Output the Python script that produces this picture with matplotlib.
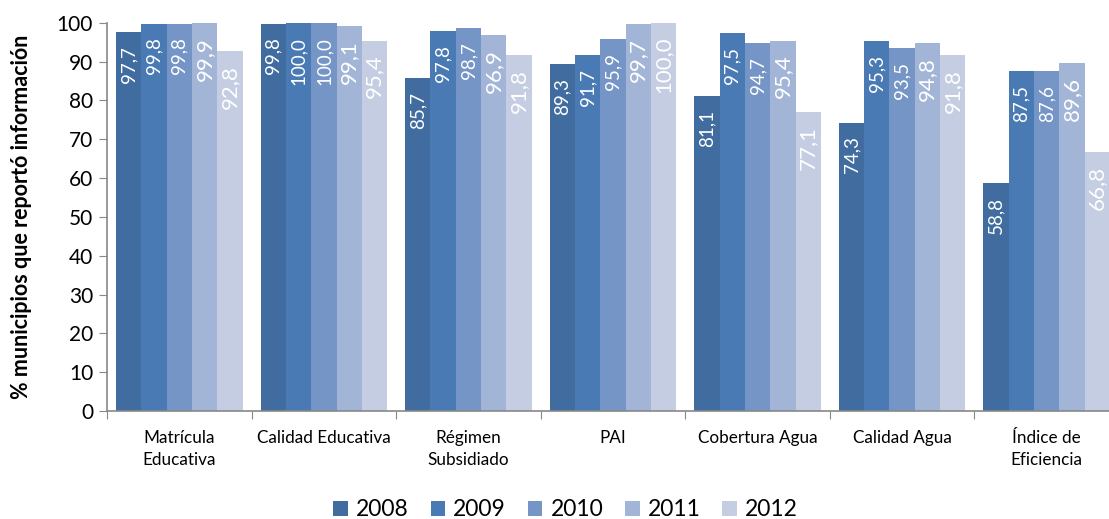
import numpy as np
import matplotlib.pyplot as plt
from matplotlib.patches import Patch

plt.rcParams['font.family'] = ['Lato', 'DejaVu Sans']

categories = ['Matrícula\nEducativa', 'Calidad Educativa', 'Régimen\nSubsidiado', 'PAI',
              'Cobertura Agua', 'Calidad Agua', 'Índice de\nEficiencia']
years = ['2008', '2009', '2010', '2011', '2012']
v2008 = [97.7, 99.8, 85.7, 89.3, 81.1, 74.3, 58.8]
v2009 = [99.8, 100.0, 97.8, 91.7, 97.5, 95.3, 87.5]
v2010 = [99.8, 100.0, 98.7, 95.9, 94.7, 93.5, 87.6]
v2011 = [99.9, 99.1, 96.9, 99.7, 95.4, 94.8, 89.6]
v2012 = [92.8, 95.4, 91.8, 100.0, 77.1, 91.8, 66.8]
series = [v2008, v2009, v2010, v2011, v2012]

colors = ['#416C9F', '#4A7AB4', '#7595C6', '#A3B5D6', '#C4CDE2']
label_sizes = [13.5, 13.5, 13.5, 16, 16]

fig = plt.figure(figsize=(11.09, 5.19), dpi=100)
ax = fig.add_axes([0.0965, 0.208, 0.9125, 0.748])

n = len(categories)
x = np.arange(n)
group_w = 0.875
bw = group_w / 5
for i, vals in enumerate(series):
    pos = x - group_w / 2 + bw * (i + 0.5)
    ax.bar(pos, vals, width=bw, color=colors[i], edgecolor='none', zorder=2)
    for p, v in zip(pos, vals):
        ax.text(p, v - 3.6, f'{v:.1f}'.replace('.', ','), rotation=90, ha='center', va='top',
                color='white', fontsize=label_sizes[i], zorder=3)

ax.set_xlim(-0.5, n - 0.5)
ax.set_ylim(0, 100)
ax.set_yticks(range(0, 101, 10))
ax.tick_params(axis='y', labelsize=15, length=6, color='#888888', pad=4)
ax.set_xticks(np.arange(-0.5, n, 1))
ax.set_xticklabels([])
ax.tick_params(axis='x', which='major', length=6, color='#888888')
ax.set_xticks(x, minor=True)
ax.set_xticklabels(categories, minor=True, fontsize=12.3)
ax.tick_params(axis='x', which='minor', length=0, pad=14)
for lbl in ax.get_xticklabels(minor=True):
    lbl.set_linespacing(1.45)

for s in ['top', 'right']:
    ax.spines[s].set_visible(False)
for s in ['left', 'bottom']:
    ax.spines[s].set_color('#888888')
    ax.spines[s].set_linewidth(1.2)

ax.set_ylabel('% municipios que reportó información', fontsize=15.5, fontweight='bold', labelpad=18)

handles = [Patch(facecolor=c, edgecolor='none') for c in colors]
fig.legend(handles, years, loc='center', bbox_to_anchor=(0.51, 0.018), ncol=5,
           frameon=False, fontsize=16.5, handlelength=0.64, handleheight=0.64,
           columnspacing=0.95, handletextpad=0.35)

fig.savefig('out.png', dpi=100)
